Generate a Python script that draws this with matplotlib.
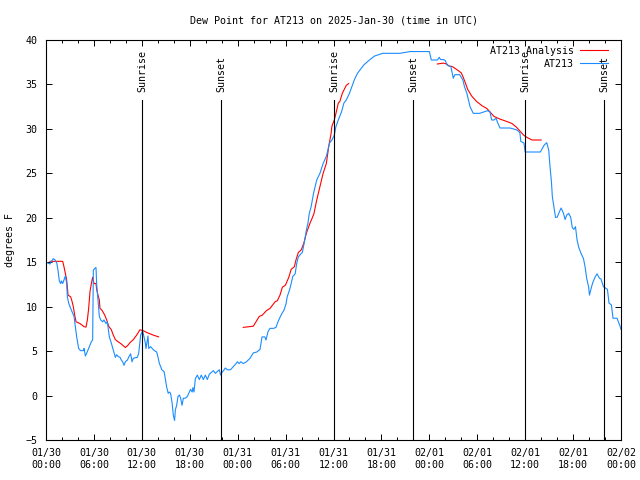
import numpy as np
import matplotlib
matplotlib.use("Agg")
import matplotlib.pyplot as plt

plt.rcParams['font.family'] = 'DejaVu Sans Mono'
FS = 7.2

# hours since 2025-01-30 00:00 UTC
obs_hours = [0.1, 0.5, 0.9, 1.1, 1.35, 1.5, 1.67, 1.84, 1.92, 2.09, 2.25, 2.42, 2.59, 2.67, 2.84, 3.09,
             3.34, 3.51, 3.67, 3.84, 4.09, 4.34, 4.68, 4.76, 4.93, 5.18, 5.43, 5.68, 5.84, 5.93, 6.09,
             6.26, 6.34, 6.51, 6.68, 6.85, 7.1, 7.26, 7.51, 7.68, 7.93, 8.18, 8.43, 8.68, 8.85, 9.02,
             9.27, 9.43, 9.6, 9.77, 9.93, 10.2, 10.4, 10.6, 10.77, 10.94, 11.44, 11.6, 11.7, 11.85,
             12.1, 12.27, 12.44, 12.52, 12.69, 12.77, 12.86, 13.1, 13.5, 13.86, 14.0, 14.2, 14.36,
             14.5, 14.78, 14.94, 15.1, 15.3, 15.45, 15.6, 15.8, 15.94, 16.1, 16.2, 16.36, 16.53, 16.7,
             16.86, 17.03, 17.2, 17.45, 17.7, 17.95, 18.1, 18.3, 18.4, 18.53, 18.7, 18.95, 19.2, 19.45,
             19.7, 19.95, 20.2, 20.45, 20.7, 20.95, 21.2, 21.45, 21.7, 21.87, 22.04, 22.3, 22.45, 22.7,
             23.1, 23.45, 23.8, 23.96, 24.2, 24.4, 24.7, 25.1, 25.55, 25.96, 26.4, 26.8, 27.05, 27.4,
             27.55, 27.8, 28.05, 28.5, 28.8, 29.05, 29.3, 29.55, 29.8, 30.05, 30.2, 30.5, 30.7, 30.9,
             31.2, 31.4, 31.6, 31.97, 32.1, 32.4, 32.6, 32.8, 32.97, 33.2, 33.5, 33.9, 34.3, 34.7,
             35.1, 35.5, 35.8, 36.1, 36.3, 36.6, 37.0, 37.3, 37.6, 38.0, 38.3, 38.6, 39.0, 39.3, 39.8,
             40.5, 41.15, 42.15, 44.3, 45.6, 48.0, 48.25, 49.0, 49.25, 49.4, 49.75, 50.0, 50.2, 50.7,
             51.0, 51.2, 51.8, 52.2, 52.4, 52.7, 52.9, 53.1, 53.5, 54.3, 54.8, 55.3, 55.6, 55.8, 56.1,
             56.35, 56.6, 56.85, 58.1, 58.9, 59.2, 59.35, 59.45, 59.85, 60.0, 61.9, 62.4, 62.7, 62.95,
             63.1, 63.3, 63.4, 63.6, 63.8, 64.0, 64.3, 64.5, 64.8, 65.0, 65.2, 65.45, 65.7, 65.9, 66.1,
             66.3, 66.5, 66.7, 66.95, 67.3, 67.5, 67.7, 67.95, 68.05, 68.3, 68.5, 68.8, 69.0, 69.3,
             69.5, 69.8, 70.3, 70.5, 70.8, 71.0, 71.5, 71.9, 72.0]
obs_dewpt = [14.95, 14.8, 15.4, 15.3, 14.9, 14.1, 12.9, 12.6, 12.9, 12.6, 13.0, 13.45, 12.6, 11.1, 10.4, 9.8,
             9.25, 8.9, 7.75, 6.6, 5.3, 5.05, 5.05, 5.3, 4.45, 4.95, 5.5, 6.06, 6.25, 14.1, 14.3,
             14.4, 12.6, 10.75, 8.9, 8.5, 8.3, 8.5, 8.1, 8.3, 6.6, 5.9, 5.1, 4.3, 4.6, 4.4,
             4.3, 4.0, 3.8, 3.4, 3.8, 4.0, 4.4, 4.7, 3.8, 4.2, 4.3, 4.75, 5.5, 6.8,
             7.3, 6.6, 5.9, 5.3, 6.25, 6.7, 5.3, 5.5, 5.1, 4.9, 4.4, 3.6, 3.25,
             2.9, 2.7, 1.9, 1.0, 0.25, 0.4, 0.25, -0.9, -2.2, -2.8, -1.6, -1.1, -0.1, 0.06,
             -0.3, -1.1, -0.3, -0.3, -0.1, 0.4, 0.7, 0.4, 0.9, 0.4, 1.9, 2.3, 1.8, 2.3,
             1.8, 2.3, 1.8, 2.4, 2.6, 2.8, 2.5, 2.7, 2.9, 2.3, 2.6, 2.9, 3.1, 2.9,
             2.9, 3.25, 3.6, 3.8, 3.6, 3.8, 3.6, 3.8, 4.2, 4.8, 4.9, 5.2, 6.6, 6.6,
             6.25, 7.2, 7.56, 7.56, 7.67, 8.3, 8.8, 9.25, 9.6, 10.3, 11.1, 11.9, 12.6, 13.4,
             13.7, 14.9, 15.6, 16.0, 16.1, 17.5, 18.6, 19.4, 20.5, 21.25, 22.75, 24.25, 25.0, 26.1,
             26.9, 28.4, 28.75, 29.3, 30.25, 31.0, 31.9, 32.9, 33.25, 34.0, 34.75, 35.5, 36.25, 36.6, 37.2,
             37.75, 38.2, 38.5, 38.5, 38.7, 38.7, 37.75, 37.75, 38.05, 37.8, 37.8, 37.7, 37.2, 37.0,
             35.7, 36.1, 36.1, 35.5, 34.75, 34.0, 33.25, 32.5, 31.75, 31.75, 31.9, 32.05, 31.9, 31.0, 31.0,
             31.2, 30.6, 30.1, 30.1, 29.9, 29.7, 29.5, 28.6, 28.4, 27.4, 27.4, 28.2, 28.45, 27.6,
             25.9, 23.9, 22.4, 21.25, 20.05, 20.05, 20.7, 21.1, 20.5, 19.8, 20.3, 20.5, 20.05, 18.9, 18.7,
             19.0, 17.5, 16.7, 16.1, 15.4, 14.5, 13.2, 12.2, 11.3, 12.2, 12.8, 13.4, 13.7, 13.2,
             13.1, 12.25, 11.95, 10.4, 10.2, 8.7, 8.7, 7.75, 7.45]

# analysis, nan marks the gaps between runs
ana_hours = [0.5, 2.09, 2.25, 2.42, 2.59, 2.76, 3.09, 3.26, 3.42, 3.59, 3.76, 4.26, 4.76, 5.01, 5.18, 5.34,
             5.51, 5.68, 5.84, 6.01, 6.26, 6.35, 6.51, 6.68, 6.76, 7.01, 7.35, 7.6, 7.85, 8.18, 8.43,
             8.68, 9.02, 9.43, 9.94, 10.2, 10.52, 10.94, 11.35, 11.77, 12.19, 12.6, 13.44, 14.1, 19.0,
             24.7, 25.96, 26.3, 26.7, 27.1, 27.6, 28.05, 28.3, 28.7, 28.97, 29.3, 29.6, 29.97, 30.4,
             30.7, 31.1, 31.3, 31.6, 31.97, 32.3, 32.6, 33.06, 33.3, 33.56, 33.9, 34.3, 34.7, 35.1,
             35.4, 35.7, 35.8, 36.1, 36.4, 36.6, 36.8, 37.1, 37.6, 37.9, 43.0,
             49.0, 49.75, 50.2, 50.4, 50.9, 51.4, 52.0, 52.2, 52.5, 52.8, 53.3, 53.9, 54.6, 55.2,
             55.6, 56.1, 56.85, 57.8, 58.35, 58.9, 59.4, 59.8, 60.2, 60.85, 62.0]
ana_dewpt = [15.1, 15.1, 14.5, 13.75, 13.0, 11.3, 11.1, 10.6, 10.0, 9.06, 8.3, 8.1, 7.75, 7.7, 8.5, 9.8,
             11.7, 12.6, 13.3, 12.6, 12.6, 11.9, 11.3, 10.75, 9.8, 9.6, 9.06, 8.5, 7.8, 7.4, 6.8,
             6.3, 6.06, 5.8, 5.4, 5.6, 5.95, 6.3, 6.8, 7.4, 7.3, 7.1, 6.8, 6.6, np.nan,
             7.67, 7.8, 8.3, 8.9, 9.06, 9.55, 9.8, 10.1, 10.56, 10.67, 11.3, 12.2, 12.4, 13.3,
             14.2, 14.5, 15.25, 16.1, 16.4, 17.2, 18.25, 19.4, 19.9, 20.5, 22.0, 23.5, 25.0, 26.1,
             28.0, 29.5, 30.3, 31.0, 32.1, 32.9, 33.1, 34.0, 34.9, 35.1, np.nan,
             37.3, 37.4, 37.3, 37.1, 37.0, 36.7, 36.3, 35.9, 35.2, 34.45, 33.7, 33.1, 32.6, 32.3,
             31.9, 31.4, 31.1, 30.8, 30.6, 30.2, 29.7, 29.3, 29.05, 28.75, 28.75]

sun_hours = [12.02, 21.91, 36.06, 45.95, 59.98, 69.87]
sun_labels = ['Sunrise', 'Sunset', 'Sunrise', 'Sunset', 'Sunrise', 'Sunset']

tick_hours = list(range(0, 73, 6))
tick_labels = ['01/30\n00:00', '01/30\n06:00', '01/30\n12:00', '01/30\n18:00',
               '01/31\n00:00', '01/31\n06:00', '01/31\n12:00', '01/31\n18:00',
               '02/01\n00:00', '02/01\n06:00', '02/01\n12:00', '02/01\n18:00',
               '02/02\n00:00']

fig = plt.figure(figsize=(6.4, 4.8), dpi=100)
ax = fig.add_axes([46 / 640, 1 - 440 / 480, 575 / 640, 400 / 480])

ax.plot(ana_hours, ana_dewpt, color='#ff0000', lw=0.8, label='AT213 Analysis')
ax.plot(obs_hours, obs_dewpt, color='#1a8cff', lw=0.8, label='AT213')

for h, lab in zip(sun_hours, sun_labels):
    ax.plot([h, h], [-5, 33.3], color='black', lw=0.8)
    ax.text(h, 34.2, lab, rotation=90, ha='center', va='bottom', fontsize=FS)

ax.set_xlim(0, 72)
ax.set_ylim(-5, 40)
ax.set_xticks(tick_hours)
ax.set_xticklabels(tick_labels, fontsize=FS)
ax.set_xticks(range(0, 73, 2), minor=True)
ax.set_yticks(range(-5, 41, 5))
ax.tick_params(axis='y', labelsize=FS)
ax.tick_params(which='major', direction='in', length=4.3, width=0.7, top=True, right=True, pad=6)
ax.tick_params(which='minor', direction='in', length=2.2, width=0.7, top=True, right=False)
for s in ax.spines.values():
    s.set_linewidth(0.8)

ax.set_title('Dew Point for AT213 on 2025-Jan-30 (time in UTC)', fontsize=FS, pad=12)
ax.set_ylabel('degrees F', fontsize=FS, labelpad=8)

ax.legend(loc='upper right', bbox_to_anchor=(1 - 7 / 575, 1), frameon=False, markerfirst=False,
          fontsize=FS, handlelength=2.8, borderaxespad=0.2, labelspacing=0.3, handletextpad=0.6)

fig.savefig('out.png', dpi=100)
